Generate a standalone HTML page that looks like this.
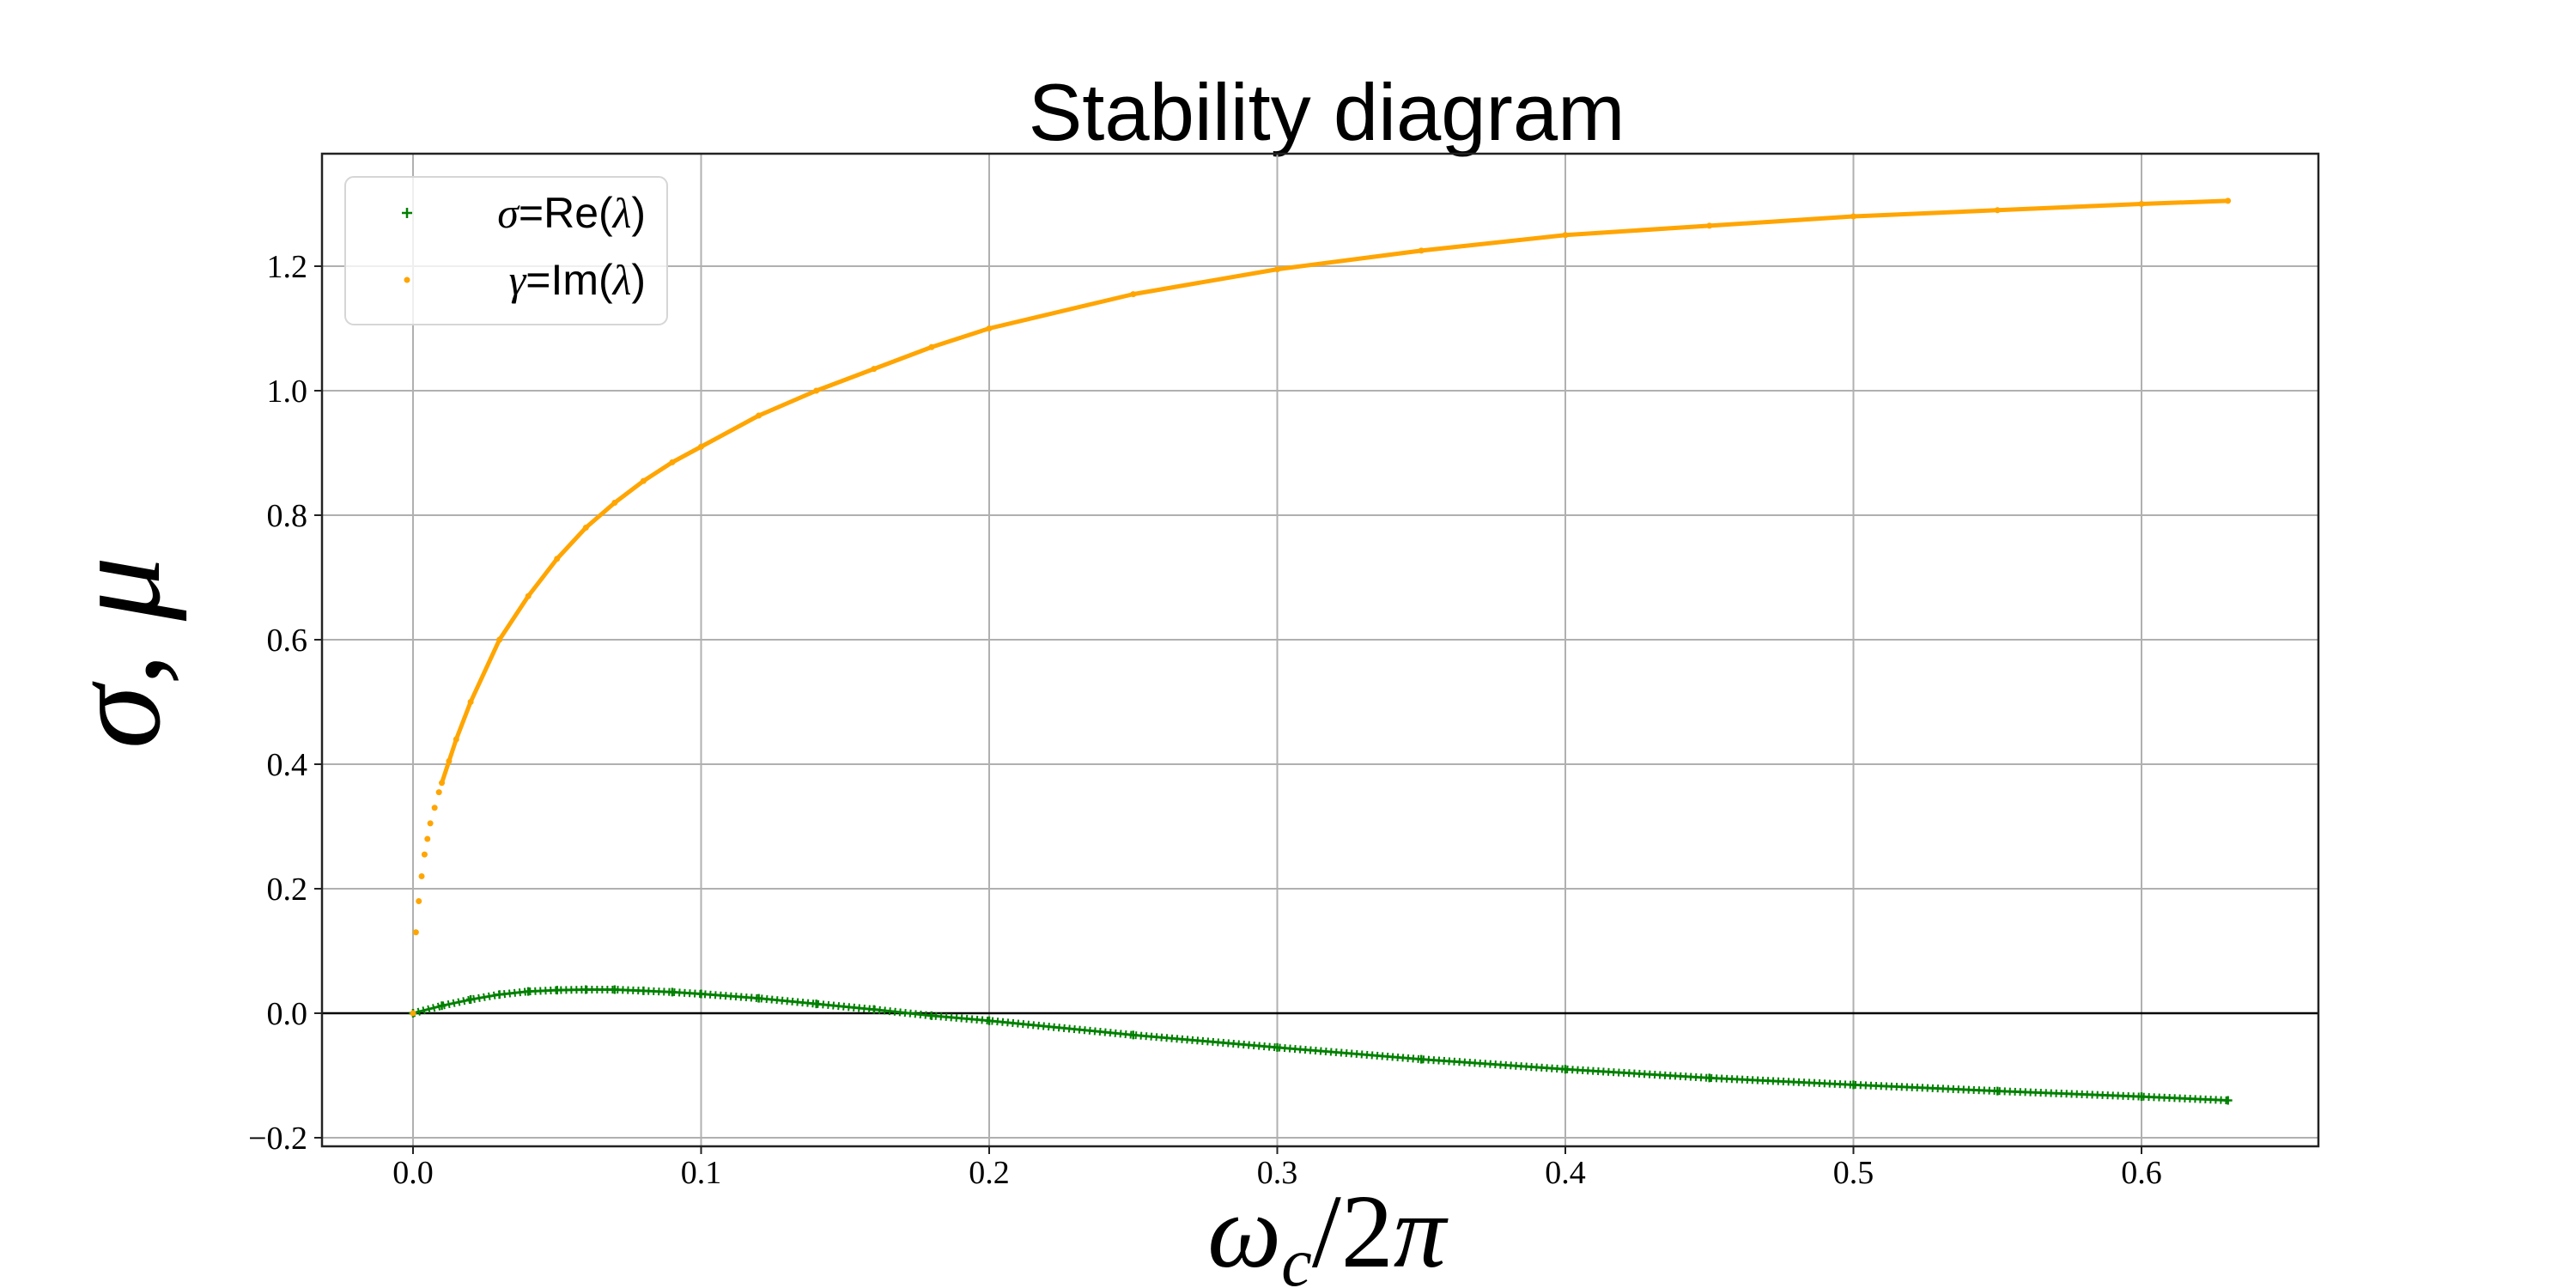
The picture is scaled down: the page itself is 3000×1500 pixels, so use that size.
<!DOCTYPE html>
<html><head><meta charset="utf-8"><style>
html,body{margin:0;padding:0;background:#fff;}
svg{display:block;}
</style></head><body>
<svg id="chart" xmlns="http://www.w3.org/2000/svg" width="3000" height="1500" viewBox="0 0 3000 1500">
<rect x="0" y="0" width="3000" height="1500" fill="#fff"/>
<text x="1545" y="163" text-anchor="middle" font-family="Liberation Sans, sans-serif" font-size="94" fill="#000">Stability diagram</text>
<g id="grid"></g>
<g id="marks"></g>
<rect x="375" y="179" width="2325" height="1156" fill="none" stroke="#222" stroke-width="2.5"/>
<g id="ticks"></g>
<text x="1545" y="1475" text-anchor="middle" font-family="Liberation Serif, serif" font-style="italic" font-size="122" fill="#000">ω<tspan font-size="80" dy="22">c</tspan><tspan dy="-22" font-style="normal">/2</tspan>π</text>
<text transform="translate(185,760) rotate(-90)" text-anchor="middle" font-family="Liberation Serif, serif" font-style="italic" font-size="150" fill="#000">σ<tspan font-style="normal">,</tspan> μ</text>
<g>
<rect x="402" y="206" width="375" height="172" rx="10" fill="#fff" fill-opacity="0.8" stroke="#d6d6d6" stroke-width="2"/>
<g>
<path d="M468 248 H480 M474 242 V254" stroke="green" stroke-width="2.5"/>
<text x="752" y="265" text-anchor="end" font-family="Liberation Sans, sans-serif" font-size="50" fill="#000"><tspan font-family="Liberation Serif, serif" font-style="italic">σ</tspan>=Re(<tspan font-family="Liberation Serif, serif" font-style="italic">λ</tspan>)</text>
</g>
<g>
<circle cx="474" cy="326" r="3.5" fill="orange"/>
<text x="752" y="343" text-anchor="end" font-family="Liberation Sans, sans-serif" font-size="50" fill="#000"><tspan font-family="Liberation Serif, serif" font-style="italic">γ</tspan>=Im(<tspan font-family="Liberation Serif, serif" font-style="italic">λ</tspan>)</text>
</g>
</g>
</svg>
<script>
const xTicks = [0.0, 0.1, 0.2, 0.3, 0.4, 0.5, 0.6];
const xTickLabels = ["0.0", "0.1", "0.2", "0.3", "0.4", "0.5", "0.6"];
const yTicks = [-0.2, 0.0, 0.2, 0.4, 0.6, 0.8, 1.0, 1.2];
const yTickLabels = ["−0.2", "0.0", "0.2", "0.4", "0.6", "0.8", "1.0", "1.2"];
const gammaX = [0.001,0.002,0.003,0.004,0.005,0.006,0.0075,0.009,0.01,0.0125,0.015,0.02,0.03,0.04,0.05,0.06,0.07,0.08,0.09,0.1,0.12,0.14,0.16,0.18,0.2,0.25,0.3,0.35,0.4,0.45,0.5,0.55,0.6,0.63];
const gammaY = [0.13,0.18,0.22,0.255,0.28,0.305,0.33,0.355,0.37,0.405,0.44,0.5,0.6,0.67,0.73,0.78,0.82,0.855,0.885,0.91,0.96,1.0,1.035,1.07,1.1,1.155,1.195,1.225,1.25,1.265,1.28,1.29,1.3,1.305];
const sigmaX = [0,0.01,0.02,0.03,0.04,0.05,0.06,0.07,0.08,0.09,0.1,0.12,0.14,0.16,0.18,0.2,0.25,0.3,0.35,0.4,0.45,0.5,0.55,0.6,0.63];
const sigmaY = [0,0.012,0.022,0.03,0.035,0.037,0.038,0.038,0.036,0.034,0.031,0.024,0.015,0.006,-0.004,-0.012,-0.035,-0.055,-0.074,-0.09,-0.104,-0.115,-0.125,-0.134,-0.14];

const X0 = 481, XS = 3355;
const Y0 = 1180, YS = 725;
function sx(v){ return X0 + v*XS; }
function sy(v){ return Y0 - v*YS; }
const NS = 'http://www.w3.org/2000/svg';
function mk(tag, attrs, parent){ const e=document.createElementNS(NS,tag); for(const k in attrs) e.setAttribute(k,attrs[k]); parent.appendChild(e); return e; }
const grid = document.getElementById('grid');
const ticks = document.getElementById('ticks');
const marks = document.getElementById('marks');

xTicks.forEach((t,i)=>{
  const g = mk('line',{x1:sx(t),x2:sx(t),y1:179,y2:1335,stroke:'#b0b0b0','stroke-width':2},grid);
  
  
  const tk = mk('line',{x1:sx(t),x2:sx(t),y1:1335,y2:1344,stroke:'#222','stroke-width':2},ticks);
  
  
  const lb = mk('text',{x:sx(t),y:1378,'text-anchor':'middle','font-family':'Liberation Serif, serif','font-size':38,fill:'#000'},ticks);
  lb.textContent = xTickLabels[i];
  
  
});
yTicks.forEach((t,i)=>{
  const g = mk('line',{x1:375,x2:2700,y1:sy(t),y2:sy(t),stroke:'#b0b0b0','stroke-width':2},grid);
  
  
  const tk = mk('line',{x1:366,x2:375,y1:sy(t),y2:sy(t),stroke:'#222','stroke-width':2},ticks);
  
  
  const lb = mk('text',{x:358,y:sy(t)+13,'text-anchor':'end','font-family':'Liberation Serif, serif','font-size':38,fill:'#000'},ticks);
  lb.textContent = yTickLabels[i];
  
  
});
const zl = mk('line',{x1:375,x2:2700,y1:sy(0),y2:sy(0),stroke:'#000','stroke-width':2.5},marks);



const sp = mk('polyline',{points:sigmaX.map((x,i)=>sx(x)+','+sy(sigmaY[i])).join(' '),fill:'none',stroke:'green','stroke-width':9,'stroke-dasharray':'2 4'},marks);


const sp2 = mk('polyline',{points:sigmaX.map((x,i)=>sx(x)+','+sy(sigmaY[i])).join(' '),fill:'none',stroke:'green','stroke-width':3},marks);


sigmaX.forEach((x,i)=>{
  const p = mk('path',{d:`M${sx(x)-5} ${sy(sigmaY[i])} h10 M${sx(x)} ${sy(sigmaY[i])-5} v10`,stroke:'green','stroke-width':2.5},marks);
  
  
});
const gp = mk('polyline',{points:gammaX.slice(8).map((x,i)=>sx(x)+','+sy(gammaY[i+8])).join(' '),fill:'none',stroke:'orange','stroke-width':5,'stroke-linejoin':'round'},marks);


gammaX.forEach((x,i)=>{
  const c = mk('circle',{cx:sx(x),cy:sy(gammaY[i]),r:3.5,fill:'orange'},marks);
  
  
});
const o0 = mk('circle',{cx:sx(0),cy:sy(0),r:3.5,fill:'orange'},marks);


</script>
</body></html>
